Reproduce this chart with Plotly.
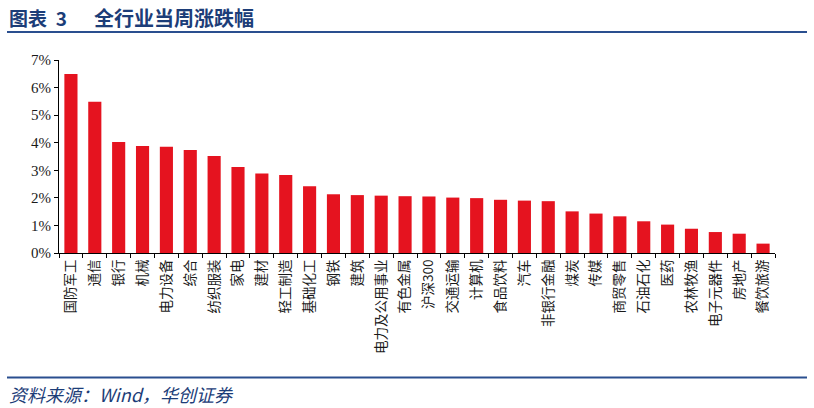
import plotly.graph_objects as go

categories = ["国防军工", "通信", "银行", "机械", "电力设备", "综合", "纺织服装", "家电", "建材",
              "轻工制造", "基础化工", "钢铁", "建筑", "电力及公用事业", "有色金属", "沪深300",
              "交通运输", "计算机", "食品饮料", "汽车", "非银行金融", "煤炭", "传媒", "商贸零售",
              "石油石化", "医药", "农林牧渔", "电子元器件", "房地产", "餐饮旅游"]
values = [6.49, 5.49, 4.03, 3.88, 3.85, 3.74, 3.52, 3.12, 2.88, 2.83, 2.42, 2.13, 2.10, 2.08,
          2.06, 2.05, 2.01, 1.99, 1.93, 1.90, 1.88, 1.51, 1.43, 1.33, 1.15, 1.03, 0.88, 0.76,
          0.70, 0.34]
y_ticks = [0, 1, 2, 3, 4, 5, 6, 7]
y_tick_labels = ["0%", "1%", "2%", "3%", "4%", "5%", "6%", "7%"]

W, H = 814, 408
# plot area in page pixels: x 59..775, y 60..253
ml, mr, mt, mb = 59, 814 - 775, 60, 408 - 253
pw = W - ml - mr
ph = H - mt - mb


def px_x(x):
    return (x - ml) / pw


def px_y(y):
    return (H - mb - y) / ph


fig = go.Figure(go.Bar(
    x=categories, y=values,
    marker=dict(color="#E5131F", line=dict(width=0)),
    width=0.55,
))

navy = "#1C3D78"
rule = "#2A4F8F"

fig.update_layout(
    width=W, height=H,
    margin=dict(l=ml, r=mr, t=mt, b=mb),
    paper_bgcolor="white", plot_bgcolor="white",
    showlegend=False,
    xaxis=dict(
        tickangle=-90,
        showline=True, linecolor="black", linewidth=1,
        ticks="outside", tickson="boundaries", ticklen=4, tickcolor="black",
        tickfont=dict(family="Noto Sans CJK SC", size=13.5, color="#1a1a1a"),
        showgrid=False, zeroline=False,
        range=[-0.5, len(categories) - 0.5],
        automargin=False,
    ),
    yaxis=dict(
        range=[0, 7], tickmode="array", tickvals=y_ticks, ticktext=y_tick_labels,
        showline=True, linecolor="black", linewidth=1,
        ticks="outside", ticklen=4, tickcolor="black",
        tickfont=dict(family="Liberation Serif", size=15, color="#1a1a1a"),
        showgrid=False, zeroline=False,
        automargin=False,
    ),
    shapes=[
        dict(type="line", xref="paper", yref="paper",
             x0=px_x(7), x1=px_x(807), y0=px_y(32), y1=px_y(32),
             line=dict(color=rule, width=2)),
        dict(type="line", xref="paper", yref="paper",
             x0=px_x(7), x1=px_x(807), y0=px_y(377.5), y1=px_y(377.5),
             line=dict(color=rule, width=2)),
    ],
    annotations=[
        dict(text="<b>图表  3</b>", xref="paper", yref="paper",
             x=px_x(7), y=px_y(17), xanchor="left", yanchor="middle", showarrow=False,
             font=dict(family="Noto Sans CJK SC", size=19, color=navy)),
        dict(text="<b>全行业当周涨跌幅</b>", xref="paper", yref="paper",
             x=px_x(92), y=px_y(17), xanchor="left", yanchor="middle", showarrow=False,
             font=dict(family="Noto Sans CJK SC", size=20, color=navy)),
        dict(text="<i>资料来源：Wind，华创证券</i>", xref="paper", yref="paper",
             x=px_x(7), y=px_y(394), xanchor="left", yanchor="middle", showarrow=False,
             font=dict(family="Noto Sans CJK SC", size=18, color=navy)),
    ],
)

fig.write_html("out.html", config={"displayModeBar": False},
               post_script="document.body.style.margin='0';")
